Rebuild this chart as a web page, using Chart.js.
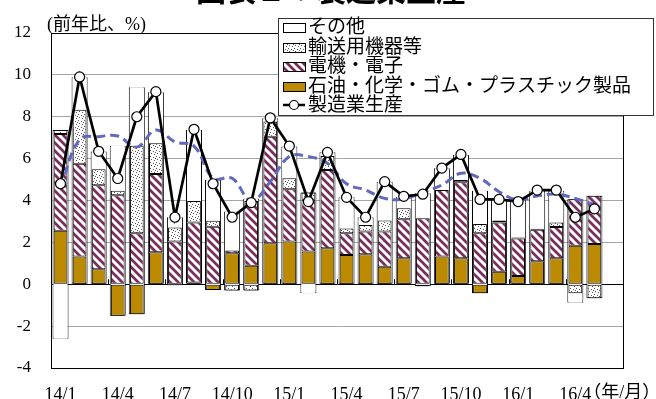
<!DOCTYPE html>
<html lang="ja">
<head>
<meta charset="utf-8">
<script src="https://cdn.jsdelivr.net/npm/chart.js@4.4.1/dist/chart.umd.min.js"></script>
<style>
  html, body { margin: 0; padding: 0; background: #fff; }
  #wrap { width: 656px; height: 399px; }
</style>
</head>
<body>
<div id="wrap"><canvas id="chart" width="656" height="399"></canvas></div>
<script>
// categories (16/6 has no data yet, the axis keeps an empty slot for it)
const months = [
  '14/1', '14/2', '14/3', '14/4', '14/5', '14/6', '14/7', '14/8', '14/9', '14/10', '14/11', '14/12',
  '15/1', '15/2', '15/3', '15/4', '15/5', '15/6', '15/7', '15/8', '15/9', '15/10', '15/11', '15/12',
  '16/1', '16/2', '16/3', '16/4', '16/5', '16/6'
];
const tickLabels = ['14/1', '14/4', '14/7', '14/10', '15/1', '15/4', '15/7', '15/10', '16/1', '16/4'];
const yMin = -4, yMax = 12, yStep = 2;

// contributions (前年比、%)
const petroChem = [2.55, 1.32, 0.72, -1.51, -1.43, 1.53, -0.05, 0.08, -0.27, 1.48, 0.88, 1.96,
  2.04, 1.56, 1.72, 1.4, 1.43, 0.84, 1.24, -0.1, 1.32, 1.24, -0.43, 0.6,
  0.4, 1.1, 1.24, 1.84, 1.92];
const electric = [4.63, 4.43, 4.01, 4.25, 2.44, 3.74, 2.04, 2.87, 2.75, 0.13, 3.1, 5.09,
  2.5, 2.47, 3.74, 1.04, 1.09, 1.68, 1.86, 3.15, 3.18, 3.63, 2.44, 2.35,
  1.78, 1.5, 1.49, 2.22, 2.31];
const transport = [0.19, 2.58, 0.76, 0.21, 4.17, 1.47, 0.67, 1.03, 0.28, -0.3, -0.3, 0.72,
  0.52, 0.35, 0.67, 0.22, 0.31, 0.52, 0.53, 0, 0, 0.11, 0.44, 0.09,
  0.05, 0.05, 0.22, -0.43, -0.67];
const others = [-2.6, 1.56, 0.85, 2.15, 2.8, 2.43, 0.49, 3.39, 1.95, 1.86, 0.12, 0.16,
  1.52, -0.43, 0.17, 1.5, 0.37, 1.86, 0.55, 1.2, 1.04, 1.19, 1.59, 0.99,
  1.8, 1.82, 1.52, -0.45, 0];
const production = [4.8, 9.9, 6.35, 5.05, 8.0, 9.2, 3.2, 7.4, 4.8, 3.2, 3.9, 7.95,
  6.6, 3.95, 6.3, 4.15, 3.2, 4.9, 4.2, 4.3, 5.55, 6.2, 4.05, 4.05,
  3.95, 4.5, 4.5, 3.2, 3.6];
const trend = [4.6, 6.92, 7.05, 7.08, 6.55, 7.37, 6.8, 6.6, 5.06, 5.06, 3.99, 4.9,
  6.1, 6.1, 5.78, 4.8, 4.5, 4.1, 4.08, 4.39, 4.74, 5.3, 5.06, 4.42,
  4.03, 4.22, 4.3, 4.1, 3.79];

// white frame behind each stack, from the lowest to the highest segment
const extent = production.map((_, i) => {
  let lo = 0, hi = 0;
  [petroChem[i], electric[i], transport[i], others[i]].forEach(v => {
    if (v < 0) lo += v; else hi += v;
  });
  return [lo, hi];
});

const FONT = "'Liberation Serif', 'Noto Sans CJK JP', serif";
Chart.defaults.font.family = FONT;
Chart.defaults.color = '#000';

function hatch() {
  const c = document.createElement('canvas');
  c.width = 8; c.height = 8;
  const g = c.getContext('2d');
  g.fillStyle = '#fff';
  g.fillRect(0, 0, 8, 8);
  g.strokeStyle = '#7b2d5c';
  g.lineWidth = 2.7;
  g.beginPath();
  g.moveTo(-2, -2); g.lineTo(10, 10);
  g.moveTo(-2, 6); g.lineTo(2, 10);
  g.moveTo(6, -2); g.lineTo(10, 2);
  g.stroke();
  return g.createPattern(c, 'repeat');
}

function dots() {
  const c = document.createElement('canvas');
  c.width = 6; c.height = 6;
  const g = c.getContext('2d');
  g.fillStyle = '#fff';
  g.fillRect(0, 0, 6, 6);
  g.fillStyle = '#555';
  [[0, 0], [3, 1], [1, 3], [4, 4], [5, 2]].forEach(([x, y]) => g.fillRect(x, y, 1, 1));
  return g.createPattern(c, 'repeat');
}

const GOLD = '#bc8a00';
const hatchFill = hatch();
const dotFill = dots();

const frame = {
  id: 'frame',
  beforeDraw(chart) {
    const { ctx } = chart;
    ctx.save();
    ctx.fillStyle = '#000';
    ctx.font = "bold 30px 'Noto Sans CJK JP', sans-serif";
    ctx.textAlign = 'center';
    ctx.textBaseline = 'alphabetic';
    ctx.fillText('図表２：製造業生産', 331, 1);
    ctx.font = '18px ' + FONT;
    ctx.textAlign = 'left';
    ctx.fillText('(前年比、%)', 47, 30);
    ctx.restore();
  },
  afterDatasetsDraw(chart) {
    const { ctx, chartArea: a, scales: { x, y } } = chart;
    const y0 = y.getPixelForValue(0);
    ctx.save();
    ctx.strokeStyle = '#000';
    ctx.lineWidth = 1;
    ctx.beginPath();
    months.forEach((m, i) => {
      if (i > 0 && tickLabels.includes(m)) {
        const px = Math.round((x.getPixelForValue(i - 1) + x.getPixelForValue(i)) / 2) + 0.5;
        ctx.moveTo(px, y0);
        ctx.lineTo(px, y0 - 5);
      }
    });
    ctx.stroke();
    ctx.strokeRect(Math.round(a.left) + 0.5, Math.round(a.top) + 0.5,
      Math.round(a.width), Math.round(a.height));
    ctx.restore();
  },
  afterDraw(chart) {
    const { ctx, scales: { x } } = chart;
    ctx.save();
    // unit after the last tick label
    ctx.font = '18px ' + FONT;
    ctx.fillStyle = '#000';
    ctx.textBaseline = 'top';
    const last = months.indexOf('16/4');
    const px = x.getPixelForValue(last) + ctx.measureText('16/4').width / 2 - 8;
    ctx.fillText('（年/月）', px, 384);

    // legend
    const bx = 278, by = 18, bw = 375, bh = 97;
    ctx.fillStyle = '#fff';
    ctx.fillRect(bx, by, bw, bh);
    ctx.strokeStyle = '#333';
    ctx.lineWidth = 1;
    ctx.strokeRect(bx + 0.5, by + 0.5, bw, bh);
    const order = ['その他', '輸送用機器等', '電機・電子', '石油・化学・ゴム・プラスチック製品', '製造業生産'];
    ctx.font = '19px ' + FONT;
    ctx.textBaseline = 'middle';
    order.forEach((name, i) => {
      const ds = chart.data.datasets.find(d => d.label === name);
      const cy = Math.round(by + 9 + i * 19.6);
      if (ds.type === 'line') {
        ctx.strokeStyle = '#000';
        ctx.lineWidth = 2.5;
        ctx.beginPath();
        ctx.moveTo(283, cy); ctx.lineTo(305, cy);
        ctx.stroke();
        ctx.fillStyle = '#fff';
        ctx.lineWidth = 1.2;
        ctx.beginPath();
        ctx.arc(294, cy, 4.5, 0, Math.PI * 2);
        ctx.fill(); ctx.stroke();
      } else {
        ctx.fillStyle = ds.backgroundColor;
        ctx.fillRect(283, cy - 4, 22, 9);
        ctx.strokeStyle = '#000';
        ctx.lineWidth = 1;
        ctx.strokeRect(283.5, cy - 3.5, 22, 9);
      }
      ctx.fillStyle = '#000';
      ctx.fillText(name, 308, cy + 1);
    });
    ctx.restore();
  }
};

const seg = {
  stack: 'seg', grouped: false, borderColor: '#000', borderWidth: 1, borderSkipped: false,
  barPercentage: 0.72, categoryPercentage: 1
};

new Chart(document.getElementById('chart'), {
  type: 'bar',
  data: {
    labels: months,
    datasets: [
      {
        type: 'line', label: '製造業生産', data: production, stack: 'total', order: 0,
        borderColor: '#000', borderWidth: 2.7, tension: 0,
        pointRadius: 5, pointBackgroundColor: '#fff', pointBorderColor: '#000', pointBorderWidth: 1.2
      },
      {
        type: 'line', label: 'trend', data: trend, stack: 'trend', order: 1,
        borderColor: '#6168c0', borderWidth: 3, borderDash: [9, 5], tension: 0.4, pointRadius: 0
      },
      { ...seg, label: '石油・化学・ゴム・プラスチック製品', data: petroChem, backgroundColor: GOLD, order: 2 },
      { ...seg, label: '電機・電子', data: electric, backgroundColor: hatchFill, order: 3 },
      { ...seg, label: '輸送用機器等', data: transport, backgroundColor: dotFill, order: 4 },
      { ...seg, label: 'その他', data: others, backgroundColor: '#fff', borderWidth: 0, order: 5 },
      {
        label: 'extent', data: extent, stack: 'ext', grouped: false, order: 6,
        backgroundColor: '#fff', borderColor: '#000', borderWidth: 1, borderSkipped: false,
        barPercentage: 0.84, categoryPercentage: 1
      }
    ]
  },
  options: {
    responsive: false,
    animation: false,
    layout: { padding: { top: 33, right: 33, left: 0, bottom: 0 } },
    plugins: { legend: { display: false }, tooltip: { enabled: false } },
    scales: {
      x: {
        stacked: true,
        grid: { display: false },
        border: { color: '#000' },
        afterFit: s => { s.height = 31; },
        ticks: {
          autoSkip: false, maxRotation: 0, padding: 8,
          font: { size: 18 },
          callback: (v, i) => tickLabels.includes(months[i]) ? months[i] : ''
        }
      },
      y: {
        stacked: true,
        min: yMin, max: yMax,
        afterFit: s => { s.width = 51; },
        grid: {
          drawTicks: false,
          color: c => c.tick.value === 0 ? '#000' : '#a6a6a6'
        },
        border: { color: '#000' },
        ticks: { stepSize: yStep, padding: 20, font: { size: 17 } }
      }
    }
  },
  plugins: [frame]
});
</script>
</body>
</html>
